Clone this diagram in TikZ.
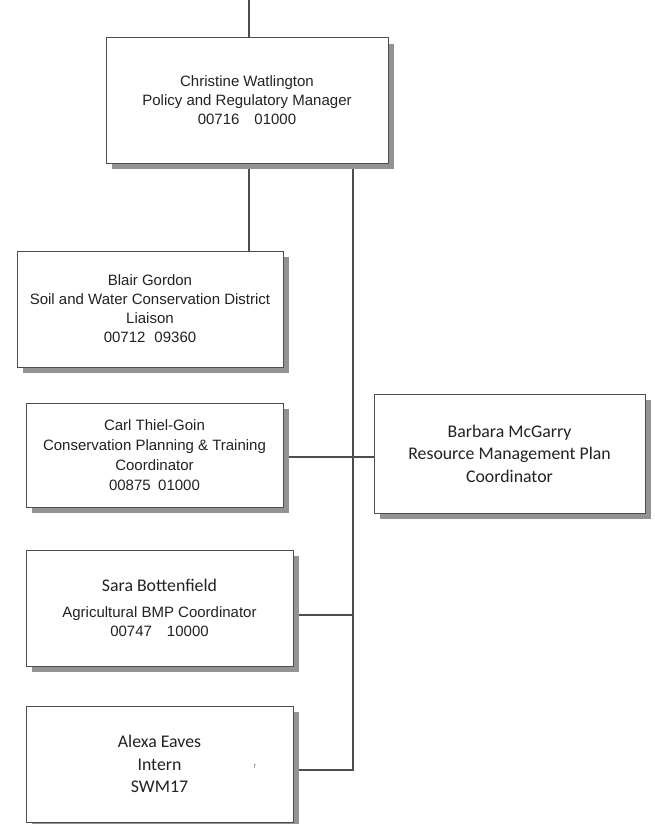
\documentclass[tikz,border=0pt]{standalone}
\usepackage{fontspec}
\newfontfamily\arialfont{Liberation Sans}
\newfontfamily\aptosfont{Carlito}
\usepackage{tikz}
\usetikzlibrary{shadows,backgrounds}
\usepackage{xcolor}
\definecolor{linegray}{HTML}{4D4D4D}
\definecolor{textgray}{HTML}{222222}

\begin{document}
\begin{tikzpicture}[x=1pt, y=-1pt,
  box/.style={draw=linegray, line width=1pt, fill=white, align=center, inner sep=0pt, text=textgray,
    drop shadow={shadow xshift=6pt, shadow yshift=-6pt, fill=gray!85, opacity=1}},
  arialtext/.style={font=\arialfont\fontsize{15}{19}\selectfont},
  aptostext/.style={font=\aptosfont\fontsize{17.8}{22.5}\selectfont},
  link/.style={draw=linegray, line width=1.1pt}]

  \useasboundingbox (0,0) rectangle (654,824);

  % Manager
  \node[box, arialtext, minimum width=282pt, minimum height=125pt] (cw) at (247,100.5)
    {Christine Watlington\\Policy and Regulatory Manager\\00716\hspace{1em}01000};

  % Staff
  \node[box, arialtext, minimum width=266pt, minimum height=116pt] (bg) at (150,309)
    {Blair Gordon\\Soil and Water Conservation District\\Liaison\\00712\hspace{0.6em}09360};
  \node[box, arialtext, minimum width=257pt, minimum height=104pt] (ct) at (154.5,455)
    {Carl Thiel-Goin\\[1pt]Conservation Planning \& Training\\[1pt]Coordinator\\[1pt]00875\hspace{0.5em}01000};
  \node[box, arialtext, minimum width=267pt, minimum height=116pt] (sb) at (159.5,608)
    {{\aptosfont\fontsize{17.8}{20}\selectfont Sara Bottenfield}\\[7pt]
     Agricultural BMP Coordinator\\00747\hspace{1em}10000};
  \node[box, aptostext, minimum width=267pt, minimum height=116pt] (ae) at (159.5,764)
    {Alexa Eaves\\Intern\\SWM17};
  \node[font=\aptosfont\fontsize{8}{8}\selectfont, text=gray, inner sep=0pt] (mk) at (255,767) {r};

  % Side position
  \node[box, aptostext, minimum width=271pt, minimum height=119pt] (bm) at (509.5,453.5)
    {Barbara McGarry\\Resource Management Plan\\Coordinator};

  % Lines
  \coordinate (top) at (249,0);
  \coordinate (spine) at (353,0);
  \begin{scope}[on background layer]
    \draw[link] (top) -- (top |- cw.north);
    \draw[link] (cw.south -| top) -- (top |- bg.north);
    \draw[link] (cw.south -| spine) |- ([yshift=-6pt]ae.east);
    \draw[link] ([yshift=-2pt]ct.east) -- ([yshift=-2pt]ct.east -| bm.west);
    \draw[link] ([yshift=-7pt]sb.east) -- ([yshift=-7pt]sb.east -| spine);
  \end{scope}

\end{tikzpicture}
\end{document}
